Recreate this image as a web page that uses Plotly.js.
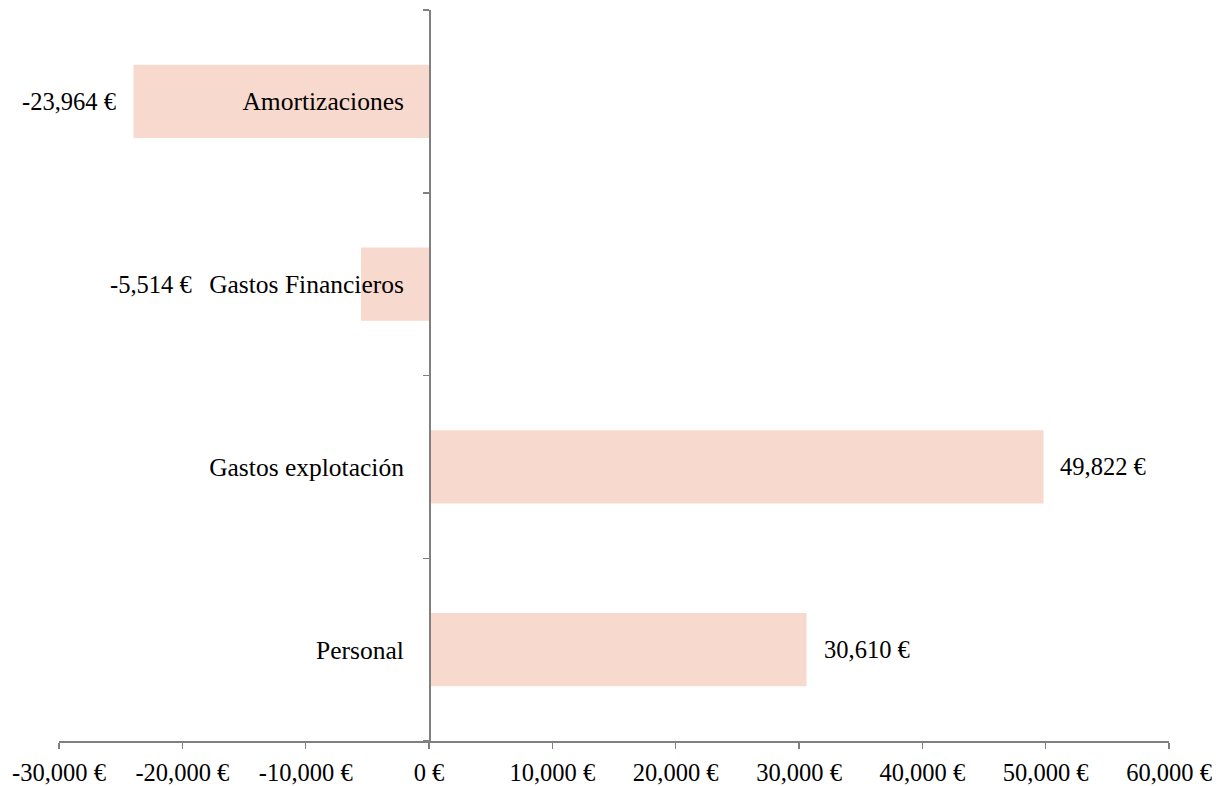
<!DOCTYPE html>
<html>
<head>
<meta charset="utf-8">
<script src="https://cdn.plot.ly/plotly-3.0.1.min.js"></script>
<style>html,body{margin:0;padding:0;background:#fff;}#chart{width:1218px;height:786px;}</style>
</head>
<body>
<div id="chart"></div>
<script>
const categories = ["Personal", "Gastos explotación", "Gastos Financieros", "Amortizaciones"];
const values = [30610, 49822, -5514, -23964];
const tickValues = [-30000, -20000, -10000, 0, 10000, 20000, 30000, 40000, 50000, 60000];
const tickLabels = ["-30,000 €", "-20,000 €", "-10,000 €", "0 €", "10,000 €", "20,000 €", "30,000 €", "40,000 €", "50,000 €", "60,000 €"];

const fmt = v => (v < 0 ? "-" : "") + Math.abs(v).toLocaleString("en-US") + " €";
const FONT = "Liberation Serif";
const CAT_SIZE = 25.5, VAL_SIZE = 24.5, TICK_SIZE = 24.5;
const XMIN = -30000, XMAX = 60000;
const W = 1218, H = 786, ML = 59, MR = 49;
const plotW = W - ML - MR;
const STANDOFF = 20; // gap from axis to category label
const GAP = 15;      // gap bar end -> value label

const ctx = document.createElement("canvas").getContext("2d");
function textW(t, size) { ctx.font = size + "px '" + FONT + "'"; return ctx.measureText(t).width; }
const px = v => (v - XMIN) / (XMAX - XMIN) * plotW;

const annotations = values.map((v, i) => {
  const a = {
    xref: "x", yref: "y", x: v, y: categories[i],
    text: fmt(v), showarrow: false,
    font: {family: FONT, size: VAL_SIZE, color: "#000"},
    yanchor: "middle"
  };
  if (v >= 0) { a.xanchor = "left"; a.xshift = GAP; }
  else {
    a.xanchor = "right";
    const labelLeft = px(0) - STANDOFF - 8 - textW(categories[i], CAT_SIZE);
    const barEnd = px(v);
    if (barEnd - GAP > labelLeft) { a.x = 0; a.xshift = -(px(0) - labelLeft) - 12; }
    else a.xshift = -GAP;
  }
  return a;
});

const trace = {
  type: "bar",
  orientation: "h",
  y: categories,
  x: values,
  width: 0.4,
  marker: {color: "#F8D9CD"},
  hoverinfo: "none"
};

const layout = {
  width: W, height: H,
  margin: {l: ML, r: MR, t: 10, b: 45},
  paper_bgcolor: "#fff", plot_bgcolor: "#fff",
  showlegend: false,
  font: {family: FONT, size: 20, color: "#000"},
  annotations: annotations,
  xaxis: {
    range: [XMIN, XMAX],
    tickvals: tickValues,
    ticktext: tickLabels,
    showgrid: false, zeroline: false,
    showline: true, linecolor: "#808080", linewidth: 1.5,
    ticks: "outside", ticklen: 6, tickcolor: "#808080", tickwidth: 1.5,
    ticklabelstandoff: 3,
    tickfont: {family: FONT, size: TICK_SIZE, color: "#000"},
    fixedrange: true
  },
  yaxis: {
    type: "category",
    categoryorder: "array",
    categoryarray: categories,
    range: [-0.5, 3.5],
    anchor: "free",
    position: 1/3,
    showgrid: false, zeroline: false,
    showline: true, linecolor: "#808080", linewidth: 1.5,
    ticks: "outside", ticklen: 6, tickcolor: "#808080", tickwidth: 1.5,
    tickson: "boundaries",
    ticklabelstandoff: STANDOFF,
    tickfont: {family: FONT, size: CAT_SIZE, color: "#000"},
    fixedrange: true
  }
};

Plotly.newPlot("chart", [trace], layout, {displayModeBar: false, staticPlot: true});
</script>
</body>
</html>
